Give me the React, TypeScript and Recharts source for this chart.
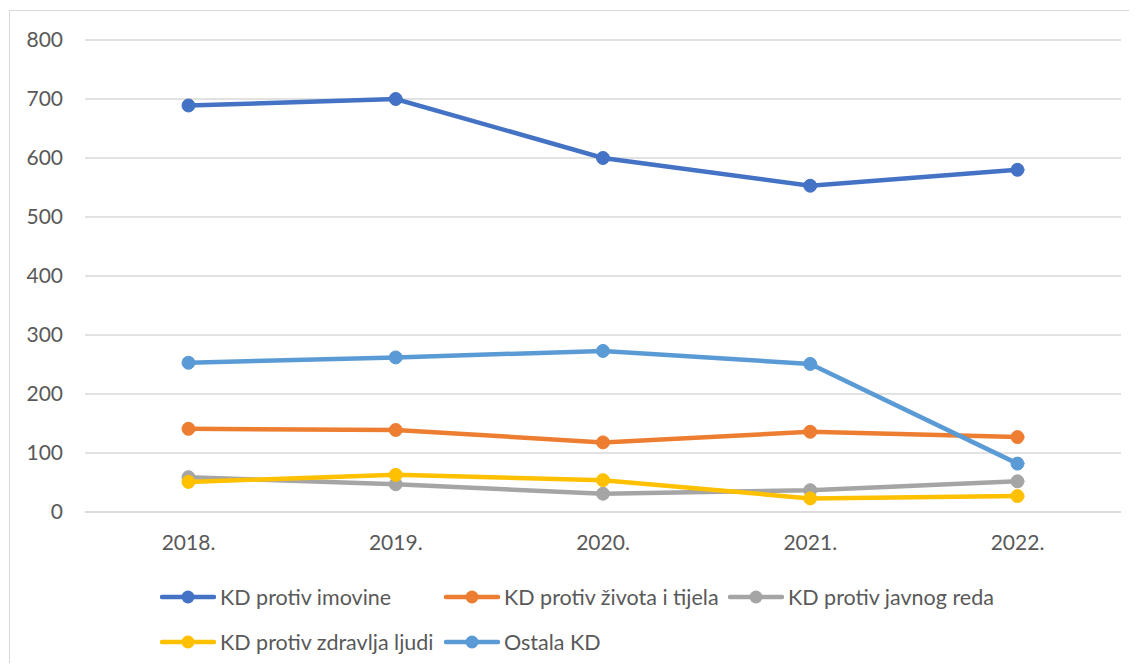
import { LineChart, Line, XAxis, YAxis, CartesianGrid } from 'recharts'

// values
const years = ['2018.', '2019.', '2020.', '2021.', '2022.']
const imovine = [689, 700, 600, 553, 580]
const zivota = [141, 139, 118, 136, 127]
const javnogReda = [59, 47, 31, 37, 52]
const zdravlja = [51, 63, 54, 23, 27]
const ostala = [253, 262, 273, 251, 82]
const yTicks = [0, 100, 200, 300, 400, 500, 600, 700, 800]

const series = [
  { key: 'imovine', name: 'KD protiv imovine', color: '#4472C4', values: imovine },
  { key: 'zivota', name: 'KD protiv života i tijela', color: '#ED7D31', values: zivota },
  { key: 'javnog', name: 'KD protiv javnog reda', color: '#A5A5A5', values: javnogReda },
  { key: 'zdravlja', name: 'KD protiv zdravlja ljudi', color: '#FFC000', values: zdravlja },
  { key: 'ostala', name: 'Ostala KD', color: '#5B9BD5', values: ostala },
]

const data = years.map((year, i) => {
  const row: Record<string, string | number> = { year }
  series.forEach(s => { row[s.key] = s.values[i] })
  return row
})

const FONT = 'Lato, "Open Sans", sans-serif'
const TEXT = '#595959'

function LegendItem({ name, color }: { name: string; color: string }) {
  return (
    <div style={{ display: 'flex', alignItems: 'center', width: 284, height: 30 }}>
      <svg width={56} height={16} style={{ flexShrink: 0 }}>
        <line x1={2} y1={8} x2={54} y2={8} stroke={color} strokeWidth={4.5} strokeLinecap="round" />
        <circle cx={28} cy={8} r={6.5} fill={color} />
      </svg>
      <span style={{ marginLeft: 4, fontSize: 21.5, color: TEXT, whiteSpace: 'nowrap' }}>{name}</span>
    </div>
  )
}

export default function App() {
  return (
    <div style={{ position: 'relative', margin: -8, width: 1137, height: 671, overflow: 'hidden', background: '#fff', fontFamily: FONT }}>
      <div style={{ position: 'absolute', left: 9, top: 10, width: 1200, height: 800, border: '1.5px solid #d9d9d9' }} />
      <div style={{ position: 'absolute', left: 0, top: 0 }}>
        <LineChart width={1137} height={671} data={data} margin={{ top: 40, right: 16, bottom: 119, left: 25 }}>
          <CartesianGrid vertical={false} stroke="#d9d9d9" strokeWidth={1.5} />
          <XAxis
            dataKey="year"
            height={40}
            padding={{ left: 103.5, right: 103.5 }}
            axisLine={{ stroke: '#d9d9d9', strokeWidth: 1.5 }}
            tickLine={false}
            tickSize={0}
            tickMargin={23}
            tick={{ fill: TEXT, fontSize: 21, fontFamily: FONT }}
          />
          <YAxis
            width={60}
            domain={[0, 800]}
            ticks={yTicks}
            axisLine={false}
            tickLine={false}
            tickSize={0}
            tickMargin={22}
            tick={{ fill: TEXT, fontSize: 21, fontFamily: FONT }}
          />
          {series.map(s => (
            <Line
              key={s.key}
              dataKey={s.key}
              name={s.name}
              type="linear"
              stroke={s.color}
              strokeWidth={4.5}
              strokeLinecap="round"
              dot={{ r: 6.5, fill: s.color, stroke: s.color, strokeWidth: 1 }}
              activeDot={false}
              isAnimationActive={false}
            />
          ))}
        </LineChart>
      </div>
      <div style={{ position: 'absolute', left: 160, top: 582, width: 860, display: 'flex', flexWrap: 'wrap', rowGap: 15 }}>
        {series.map(s => <LegendItem key={s.key} name={s.name} color={s.color} />)}
      </div>
    </div>
  )
}
